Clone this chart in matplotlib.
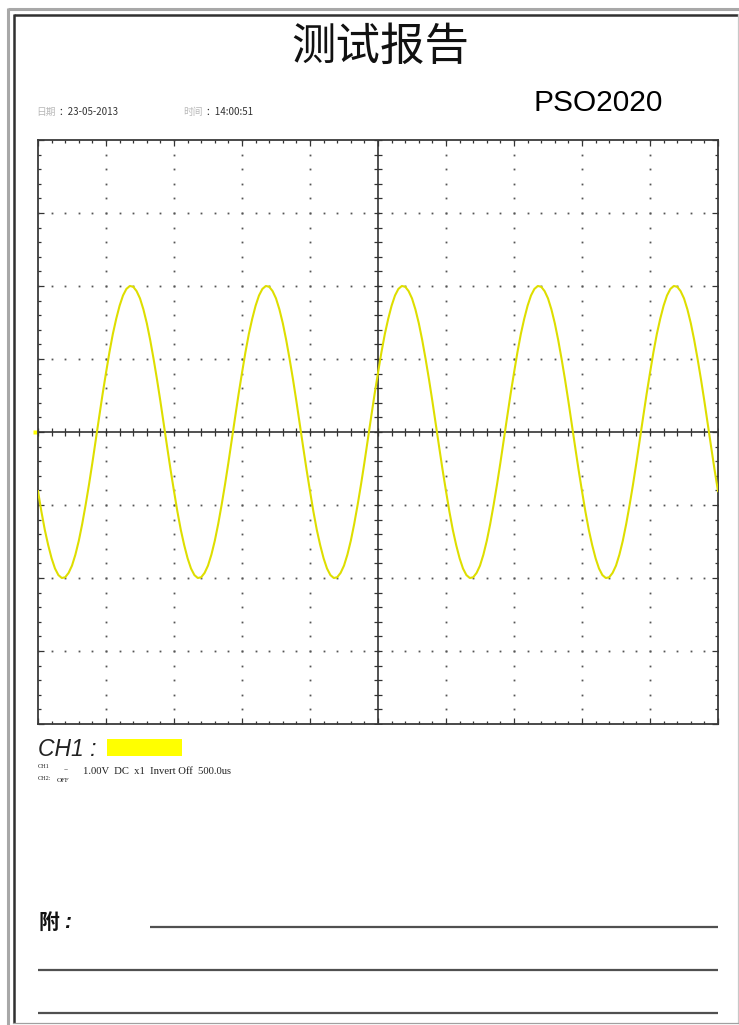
import matplotlib.pyplot as plt
import numpy as np
from matplotlib.ticker import MultipleLocator

plt.rcParams['font.family'] = ['Liberation Sans', 'Noto Sans CJK SC', 'DejaVu Sans']

# scope capture: CH1, 1.00 V/div, 500 us/div, 10 x 8 divisions
title = "测试报告"
model = "PSO2020"
date_label, date_value = "日期", "：23-05-2013"
time_label, time_value = "时间", "：14:00:51"
ch1_info = "1.00V  DC  x1  Invert Off  500.0us"
ch2_info = "OFF"
volts_per_div = 1.0
us_per_div = 500.0

# samples every 25 us across the screen (-2500 .. 2500 us), volts
t_us = np.arange(-2500, 2501, 25)
v_ch1 = [
    -0.81, -1.09, -1.34, -1.55, -1.73, -1.87, -1.96, -2.00, -1.99, -1.93,
    -1.83, -1.68, -1.49, -1.26, -1.00, -0.72, -0.42, -0.10, 0.21, 0.52,
    0.81, 1.09, 1.34, 1.55, 1.73, 1.87, 1.96, 2.00, 1.99, 1.93,
    1.83, 1.68, 1.49, 1.26, 1.00, 0.72, 0.42, 0.10, -0.21, -0.52,
    -0.81, -1.09, -1.34, -1.55, -1.73, -1.87, -1.96, -2.00, -1.99, -1.93,
    -1.83, -1.68, -1.49, -1.26, -1.00, -0.72, -0.42, -0.10, 0.21, 0.52,
    0.81, 1.09, 1.34, 1.55, 1.73, 1.87, 1.96, 2.00, 1.99, 1.93,
    1.83, 1.68, 1.49, 1.26, 1.00, 0.72, 0.42, 0.10, -0.21, -0.52,
    -0.81, -1.09, -1.34, -1.55, -1.73, -1.87, -1.96, -2.00, -1.99, -1.93,
    -1.83, -1.68, -1.49, -1.26, -1.00, -0.72, -0.42, -0.10, 0.21, 0.52,
    0.81, 1.09, 1.34, 1.55, 1.73, 1.87, 1.96, 2.00, 1.99, 1.93,
    1.83, 1.68, 1.49, 1.26, 1.00, 0.72, 0.42, 0.10, -0.21, -0.52,
    -0.81, -1.09, -1.34, -1.55, -1.73, -1.87, -1.96, -2.00, -1.99, -1.93,
    -1.83, -1.68, -1.49, -1.26, -1.00, -0.72, -0.42, -0.10, 0.21, 0.52,
    0.81, 1.09, 1.34, 1.55, 1.73, 1.87, 1.96, 2.00, 1.99, 1.93,
    1.83, 1.68, 1.49, 1.26, 1.00, 0.72, 0.42, 0.10, -0.21, -0.52,
    -0.81, -1.09, -1.34, -1.55, -1.73, -1.87, -1.96, -2.00, -1.99, -1.93,
    -1.83, -1.68, -1.49, -1.26, -1.00, -0.72, -0.42, -0.10, 0.21, 0.52,
    0.81, 1.09, 1.34, 1.55, 1.73, 1.87, 1.96, 2.00, 1.99, 1.93,
    1.83, 1.68, 1.49, 1.26, 1.00, 0.72, 0.42, 0.10, -0.21, -0.52,
    -0.81,
]

W, H = 739, 1025
fig = plt.figure(figsize=(W/100, H/100), dpi=100)
fig.patch.set_facecolor("white")

# page overlay in pixel coords (y down)
pg = fig.add_axes([0, 0, 1, 1])
pg.set_xlim(0, W) ; pg.set_ylim(H, 0)
pg.axis("off")

# double frame round the page
pg.plot([8, 8], [8, H], color="#a8a8a8", lw=2.2, solid_capstyle="butt")
pg.plot([8, W], [8.5, 8.5], color="#a8a8a8", lw=2.2, solid_capstyle="butt")
pg.plot([13.5, 13.5], [14, 1023], color="#303030", lw=1.8, solid_capstyle="butt")
pg.plot([13.5, W], [14.5, 14.5], color="#303030", lw=1.8, solid_capstyle="butt")
pg.plot([737.5, 737.5], [14, 1023], color="#c8c8c8", lw=0.9)
pg.plot([13, W], [1023, 1023], color="#a0a0a0", lw=0.9)

# header
pg.text(380, 47, title, family=["Noto Sans CJK SC"], fontsize=32, weight="light",
        ha="center", va="center", color="#111")
pg.text(533, 103, model, fontsize=21.5, ha="left", va="center", color="#000")
pg.text(36, 112, date_label, family=["Noto Sans CJK SC"], fontsize=7, color="#b8b8b8", va="center")
pg.text(58, 112, date_value, family=["Noto Sans CJK SC", "DejaVu Sans"], fontsize=7, color="#333", va="center")
pg.text(183, 112, time_label, family=["Noto Sans CJK SC"], fontsize=7, color="#b8b8b8", va="center")
pg.text(205, 112, time_value, family=["Noto Sans CJK SC", "DejaVu Sans"], fontsize=7, color="#333", va="center")

# channel legend
pg.text(38, 749, "CH1 :", fontsize=16.5, style="italic", ha="left", va="center", color="#222")
pg.add_patch(plt.Rectangle((107, 739), 75, 17, facecolor="#ffff00", edgecolor="none"))
pg.text(38, 767, "CH1", fontsize=4.5, ha="left", va="center", color="#222", family=["Liberation Serif"])
pg.text(38, 779, "CH2:", fontsize=4.5, ha="left", va="center", color="#222", family=["Liberation Serif"])
pg.text(57, 780, ch2_info, fontsize=5, ha="left", va="center", color="#222", family=["Liberation Serif"])
pg.text(64, 771, "~", fontsize=5, ha="left", va="center", color="#444")
pg.text(83, 771, ch1_info, fontsize=7.7, ha="left", va="center", color="#222", family=["Liberation Serif"])

# remarks lines
pg.text(38, 922, "附", family=["Noto Sans CJK SC"], fontsize=15, weight="bold", ha="left", va="center", color="#111")
pg.text(64, 923, ":", fontsize=15, weight="bold", style="italic", ha="left", va="center", color="#111")
for x0, y in [(150, 927), (38, 970), (38, 1013)]:
    pg.plot([x0, 718], [y, y], color="#505050", lw=1.6, solid_capstyle="butt")

# trigger level marker at the left of the screen
pg.plot([35], [432], marker="s", ms=2.5, color="#ffff00", mec="none")

# scope screen
ax = fig.add_axes([38/W, 1 - 724/H, 680/W, 584/H])
ax.set_xlim(-5*us_per_div, 5*us_per_div)
ax.set_ylim(-4*volts_per_div, 4*volts_per_div)
ax.xaxis.set_major_locator(MultipleLocator(us_per_div))
ax.xaxis.set_minor_locator(MultipleLocator(us_per_div/5))
ax.yaxis.set_major_locator(MultipleLocator(volts_per_div))
ax.yaxis.set_minor_locator(MultipleLocator(volts_per_div/5))
ax.tick_params(which="both", direction="in", top=True, right=True,
               labelbottom=False, labelleft=False, color="#333", width=0.9)
ax.tick_params(which="major", length=4)
ax.tick_params(which="minor", length=2.2)
for s in ax.spines.values():
    s.set_color("#3a3a3a") ; s.set_linewidth(1.3)

# dotted graticule
xs_minor = np.arange(-5, 5.01, 0.2) * us_per_div
ys_minor = np.arange(-4, 4.01, 0.2) * volts_per_div
for k in range(-4, 5):
    if k == 0:
        continue
    ax.plot(np.full_like(ys_minor, k*us_per_div), ys_minor, ls="none", marker="s", ms=1.3, color="#555", mec="none")
for j in range(-3, 4):
    if j == 0:
        continue
    ax.plot(xs_minor, np.full_like(xs_minor, j*volts_per_div), ls="none", marker="s", ms=1.3, color="#555", mec="none")

# centre axes with ticks
ax.axhline(0, color="#333", lw=1.2)
ax.axvline(0, color="#333", lw=1.2)
ax.plot(xs_minor, np.zeros_like(xs_minor), ls="none", marker="|", ms=6, mew=0.9, color="#333")
ax.plot(np.zeros_like(ys_minor), ys_minor, ls="none", marker="_", ms=6, mew=0.9, color="#333")

# CH1 trace
ax.plot(t_us, v_ch1, color="#dede00", lw=1.5, zorder=5)

fig.savefig("out.png", dpi=100, facecolor="white")
